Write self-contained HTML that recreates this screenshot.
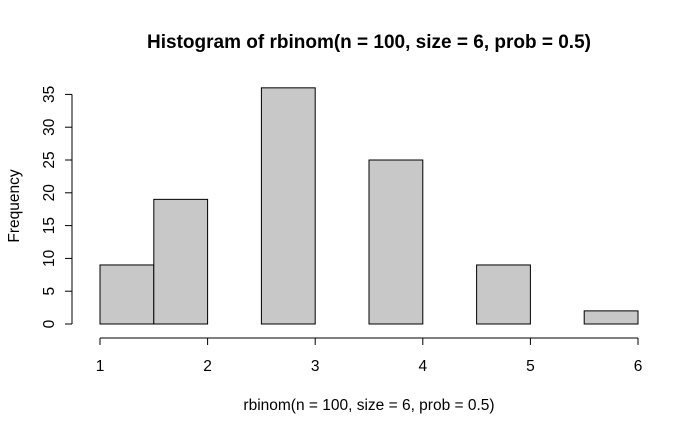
<!DOCTYPE html>
<html><head><meta charset="utf-8"><style>body{margin:0;background:#fff}svg{display:block}text{font-family:"Liberation Sans",Arial,sans-serif;fill:#000}</style></head>
<body>
<svg width="700" height="432" viewBox="0 0 700 432">
<text x="369" y="48" font-size="19" font-weight="bold" text-anchor="middle">Histogram of rbinom(n = 100, size = 6, prob = 0.5)</text>
<text x="369" y="410" font-size="15.5" text-anchor="middle">rbinom(n = 100, size = 6, prob = 0.5)</text>
<text transform="translate(19,206) rotate(-90)" font-size="15.5" text-anchor="middle">Frequency</text>
<g id="bars"></g>
<g id="xaxis"></g>
<g id="yaxis"></g>
</svg>
<script>
const breaks=[1,1.5,2,2.5,3,3.5,4,4.5,5,5.5,6];
const counts=[9,19,0,36,0,25,0,9,0,2];
const xTicks=[1,2,3,4,5,6];
const yTicks=[0,5,10,15,20,25,30,35];
const NS="http://www.w3.org/2000/svg";
const xs=v=>100+(v-1)*107.6;
const ys=v=>324-v*6.56;
function mk(t,a,p){const e=document.createElementNS(NS,t);for(const k in a)e.setAttribute(k,a[k]);p.appendChild(e);return e;}
const bars=document.getElementById('bars');
counts.forEach((c,i)=>{
 const r=mk('rect',{x:xs(breaks[i]),y:ys(c),width:xs(breaks[i+1])-xs(breaks[i]),height:ys(0)-ys(c),fill:'#c8c8c8',stroke:'#000','stroke-width':1},bars);
 
 
});
const xa=document.getElementById('xaxis');
mk('line',{x1:xs(xTicks[0]),x2:xs(xTicks[xTicks.length-1]),y1:338,y2:338,stroke:'#000'},xa);
xTicks.forEach(t=>{
 mk('line',{x1:xs(t),x2:xs(t),y1:338,y2:345,stroke:'#000'},xa);
 const tx=mk('text',{x:xs(t),y:371,'font-size':15.5,'text-anchor':'middle'},xa);tx.textContent=t;
 
 
});
const ya=document.getElementById('yaxis');
mk('line',{x1:72,x2:72,y1:ys(yTicks[0]),y2:ys(yTicks[yTicks.length-1]),stroke:'#000'},ya);
yTicks.forEach(t=>{
 mk('line',{x1:65,x2:72,y1:ys(t),y2:ys(t),stroke:'#000'},ya);
 const tx=mk('text',{transform:`translate(54,${ys(t)}) rotate(-90)`,'font-size':15.5,'text-anchor':'middle'},ya);tx.textContent=t;
 
 
});
</script>
</body></html>
